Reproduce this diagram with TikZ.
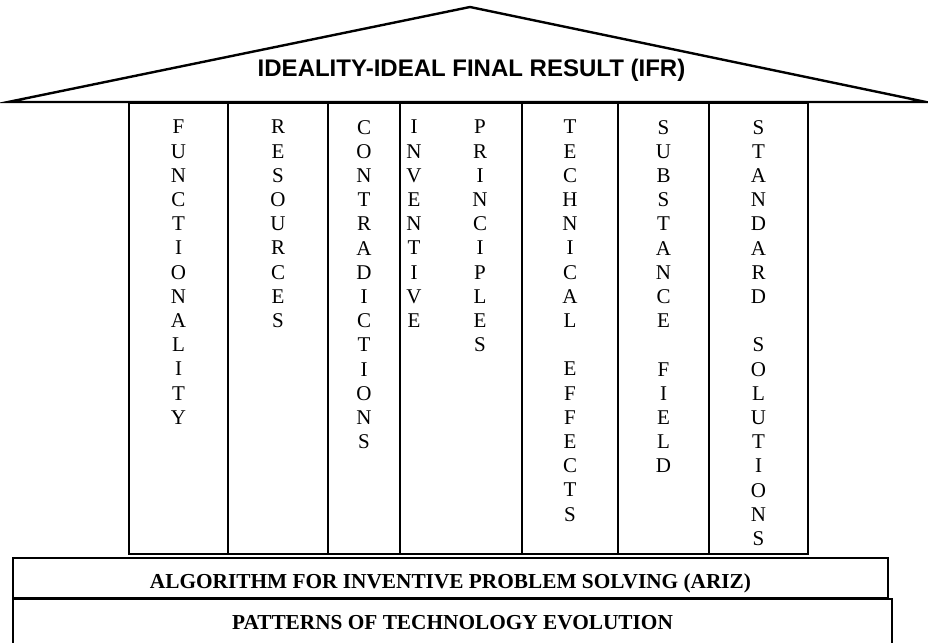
\documentclass[tikz,border=0pt]{standalone}
\usepackage{fontspec}
\setmainfont{Liberation Serif}
\newfontfamily\roofsans{Liberation Sans}
\begin{document}
\begin{tikzpicture}[x=1pt,y=-1pt,
    pillar/.style={draw=black,line width=2pt,inner sep=0pt,outer sep=0pt,minimum height=451pt},
    heavy/.style={line width=2.8pt},
    letters/.style={anchor=north,align=center,inner sep=0pt,font=\fontsize{21}{24.2}\selectfont},
    bar/.style={draw=black,line width=2pt,inner sep=0pt,outer sep=0pt,font=\bfseries\fontsize{21.3}{24}\selectfont}]
    \useasboundingbox (0,0) rectangle (928,642);

    % roof
    \coordinate (eaveL) at (8,102);
    \coordinate (apex) at (470,7);
    \coordinate (eaveR) at (926,102);
    \draw[line width=2.4pt,line join=miter] (eaveL) -- (apex) -- (eaveR) -- cycle;
    \node[font=\roofsans\bfseries\fontsize{24}{28}\selectfont] (ifr) at (471.5,70) {IDEALITY-IDEAL FINAL RESULT (IFR)};

    % pillars
    \node[pillar,minimum width=99pt] (func) at (178.5,328.5) {};
    \node[pillar,minimum width=72pt] (contra) at (364,328.5) {};
    \node[pillar,minimum width=122pt] (invent) at (461,328.5) {};
    \node[pillar,minimum width=96pt] (techn) at (570,328.5) {};
    \node[pillar,minimum width=91pt] (subst) at (663.5,328.5) {};
    \node[pillar,heavy,minimum width=100pt] (resrc) at (278,328.5) {};
    \node[pillar,heavy,minimum width=99pt] (stand) at (758.5,328.5) {};

    \node[letters] (func-t) at ([yshift=-17pt]func.north) {F\\U\\N\\C\\T\\I\\O\\N\\A\\L\\I\\T\\Y};
    \node[letters] (resrc-t) at ([yshift=-17pt]resrc.north) {R\\E\\S\\O\\U\\R\\C\\E\\S};
    \node[letters] (contra-t) at ([yshift=-17pt]contra.north) {C\\O\\N\\T\\R\\A\\D\\I\\C\\T\\I\\O\\N\\S};
    \node[letters] (invent-t) at ([xshift=-47pt,yshift=-17pt]invent.north) {I\\N\\V\\E\\N\\T\\I\\V\\E};
    \node[letters] (princ-t) at ([xshift=19pt,yshift=-17pt]invent.north) {P\\R\\I\\N\\C\\I\\P\\L\\E\\S};
    \node[letters] (techn-t) at ([yshift=-17pt]techn.north) {T\\E\\C\\H\\N\\I\\C\\A\\L\\~\\E\\F\\F\\E\\C\\T\\S};
    \node[letters] (subst-t) at ([yshift=-17pt]subst.north) {S\\U\\B\\S\\T\\A\\N\\C\\E\\~\\F\\I\\E\\L\\D};
    \node[letters] (stand-t) at ([yshift=-17pt]stand.north) {S\\T\\A\\N\\D\\A\\R\\D\\~\\S\\O\\L\\U\\T\\I\\O\\N\\S};

    % foundation
    \node[bar,minimum width=875pt,minimum height=40pt,text height=20pt,text depth=0pt] (ariz) at (450.5,578) {ALGORITHM FOR INVENTIVE PROBLEM SOLVING (ARIZ)};
    \node[bar,minimum width=879pt,minimum height=47pt] (ptrn) at (452.5,622.5) {PATTERNS OF TECHNOLOGY EVOLUTION};
\end{tikzpicture}
\end{document}
